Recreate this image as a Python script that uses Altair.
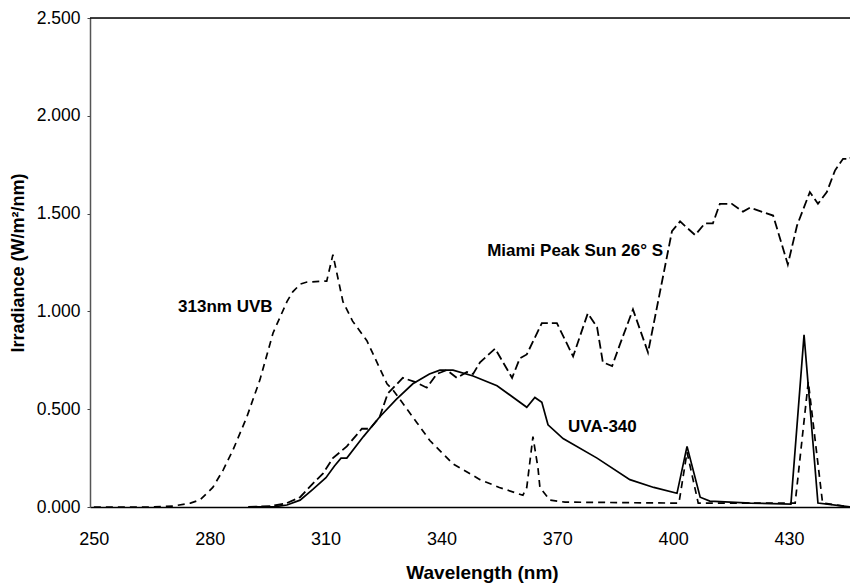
import altair as alt
import pandas as pd

# 313nm UVB lamp
uvb_nm = [250, 265, 270.5, 275, 277.5, 280.8, 283.5, 286.0, 289.6, 293.0, 296.4, 300.0, 301.5, 303.5,
          305.2, 310.3, 311.9, 314.5, 317, 320.7, 325.9, 327.4, 333.7, 337.0, 343, 350.0, 355, 361.1,
          362.1, 363.7, 365.0, 365.5, 368.1, 372, 400, 401.5, 403.6, 406.5, 430, 431.6, 435.0, 438.7, 446]
uvb_val = [0.0, 0.0, 0.005, 0.02, 0.036, 0.10, 0.19, 0.29, 0.46, 0.65, 0.89, 1.05, 1.10, 1.14,
           1.15, 1.155, 1.29, 1.05, 0.95, 0.85, 0.63, 0.60, 0.43, 0.34, 0.22, 0.14, 0.10, 0.06,
           0.10, 0.36, 0.20, 0.10, 0.035, 0.025, 0.02, 0.02, 0.28, 0.02, 0.02, 0.02, 0.64, 0.02, 0.0]

# Miami Peak Sun 26° S
sun_nm = [290, 296, 300, 303.4, 306.7, 309.3, 311.9, 315.5, 319.4, 321.5, 324.0, 326.1, 330.0, 333.1,
          336.2, 338.8, 341.4, 344.0, 346.6, 348.2, 350.0, 353.9, 358.3, 360.3, 362.1, 366.0, 369.9,
          374.1, 377.9, 380.3, 381.8, 384.2, 386.2, 389.6, 393.5, 396.6, 399.7, 401.8, 405.7, 408.2,
          410.3, 412.1, 415.2, 418.1, 419.9, 425.9, 429.7, 432.1, 435.4, 437.5, 439.8, 441.9, 444.0,
          445.8, 448.1]
sun_val = [0.0, 0.005, 0.02, 0.05, 0.12, 0.17, 0.25, 0.31, 0.40, 0.40, 0.46, 0.58, 0.66, 0.64,
           0.61, 0.68, 0.70, 0.66, 0.69, 0.68, 0.74, 0.81, 0.66, 0.76, 0.78, 0.94, 0.94,
           0.77, 0.99, 0.92, 0.74, 0.72, 0.83, 1.01, 0.79, 1.10, 1.41, 1.46, 1.39, 1.45,
           1.45, 1.55, 1.55, 1.51, 1.53, 1.49, 1.24, 1.44, 1.61, 1.55, 1.61, 1.72, 1.78,
           1.78, 1.88]

# UVA-340 lamp
uva_nm = [290, 297, 300, 303.4, 306.7, 310.1, 312.3, 314, 315.5, 319.8, 324.0, 328.3, 332.6, 336.9,
          339.6, 343.0, 348.2, 354.4, 362.1, 364.2, 366.0, 367.6, 371.5, 380.3, 388.8, 395, 401.0,
          403.6, 407.0, 409.5, 420, 430.5, 433.9, 437.5, 446]
uva_val = [0.0, 0.002, 0.01, 0.035, 0.09, 0.15, 0.21, 0.25, 0.25, 0.36, 0.46, 0.55, 0.63, 0.68,
           0.70, 0.70, 0.67, 0.62, 0.51, 0.56, 0.535, 0.42, 0.35, 0.25, 0.14, 0.10, 0.07,
           0.31, 0.05, 0.03, 0.02, 0.015, 0.88, 0.02, 0.0]

x_ticks = [250, 280, 310, 340, 370, 400, 430]
y_ticks = [0.0, 0.5, 1.0, 1.5, 2.0, 2.5]

label_text = ["Miami Peak Sun 26° S", "313nm UVB", "UVA-340"]
label_x = [397.4, 271.8, 372.8]
label_y = [1.31, 1.02, 0.41]
label_align = ["right", "left", "left"]

uvb = pd.DataFrame({"nm": uvb_nm, "val": uvb_val})
sun = pd.DataFrame({"nm": sun_nm, "val": sun_val})
uva = pd.DataFrame({"nm": uva_nm, "val": uva_val})
labels = pd.DataFrame({"t": label_text, "x": label_x, "y": label_y, "a": label_align})

FONT = "Liberation Sans"
W, H = 760, 489
xs = alt.Scale(domain=[249, 445.8], nice=False, zero=False)
ys = alt.Scale(domain=[0, 2.5], nice=False)

xaxis = alt.Axis(values=x_ticks, title="Wavelength (nm)", grid=False, ticks=False,
                 labelPadding=23, labelFont=FONT, labelFontSize=18, labelColor="#000",
                 titleFont=FONT, titleFontSize=19, titleFontWeight="bold", titleColor="#000",
                 titleX=392, titleY=65, titleBaseline="middle", titleAnchor="middle",
                 domainColor="#000", domainWidth=1.5)
yaxis = alt.Axis(values=y_ticks, format=".3f", title="Irradiance (W/m²/nm)", grid=False,
                 tickSize=3, tickColor="#444", labelPadding=7, labelFont=FONT, labelFontSize=17.5,
                 labelColor="#000", titleFont=FONT, titleFontSize=18, titleFontWeight="bold",
                 titleColor="#000", titleX=-72, titleY=H / 2, titleBaseline="middle",
                 titleAngle=-90, domainColor="#555", domainWidth=1.5)

base_x = alt.X("nm:Q", scale=xs, axis=xaxis)
base_y = alt.Y("val:Q", scale=ys, axis=yaxis)

l_sun = alt.Chart(sun).mark_line(color="black", strokeWidth=1.8, strokeDash=[9, 4], clip=True).encode(
    x=base_x, y=base_y)
l_uvb = alt.Chart(uvb).mark_line(color="black", strokeWidth=1.7, strokeDash=[7, 5], clip=True).encode(
    x=alt.X("nm:Q", scale=xs), y=alt.Y("val:Q", scale=ys))
l_uva = alt.Chart(uva).mark_line(color="black", strokeWidth=1.7, clip=True).encode(
    x=alt.X("nm:Q", scale=xs), y=alt.Y("val:Q", scale=ys))

top = alt.Chart(pd.DataFrame({"y": [y_ticks[-1]]})).mark_rule(color="black", strokeWidth=1.5).encode(
    y=alt.Y("y:Q", scale=ys), x=alt.value(0), x2=alt.value(W))

txt_l = alt.Chart(labels[labels.a == "left"]).mark_text(
    align="left", baseline="middle", font=FONT, fontSize=17, fontWeight="bold", color="black").encode(
    x=alt.X("x:Q", scale=xs), y=alt.Y("y:Q", scale=ys), text="t:N")
txt_r = alt.Chart(labels[labels.a == "right"]).mark_text(
    align="right", baseline="middle", font=FONT, fontSize=17, fontWeight="bold", color="black").encode(
    x=alt.X("x:Q", scale=xs), y=alt.Y("y:Q", scale=ys), text="t:N")

chart = alt.layer(l_sun, l_uvb, l_uva, top, txt_l, txt_r).properties(
    width=W, height=H,
    autosize=alt.AutoSizeParams(type="none"),
    padding={"left": 82, "top": 10, "right": 0, "bottom": 77},
).configure_view(stroke=None).configure(background="white")

chart.save("out.html", embed_options={"renderer": "svg", "actions": False})
